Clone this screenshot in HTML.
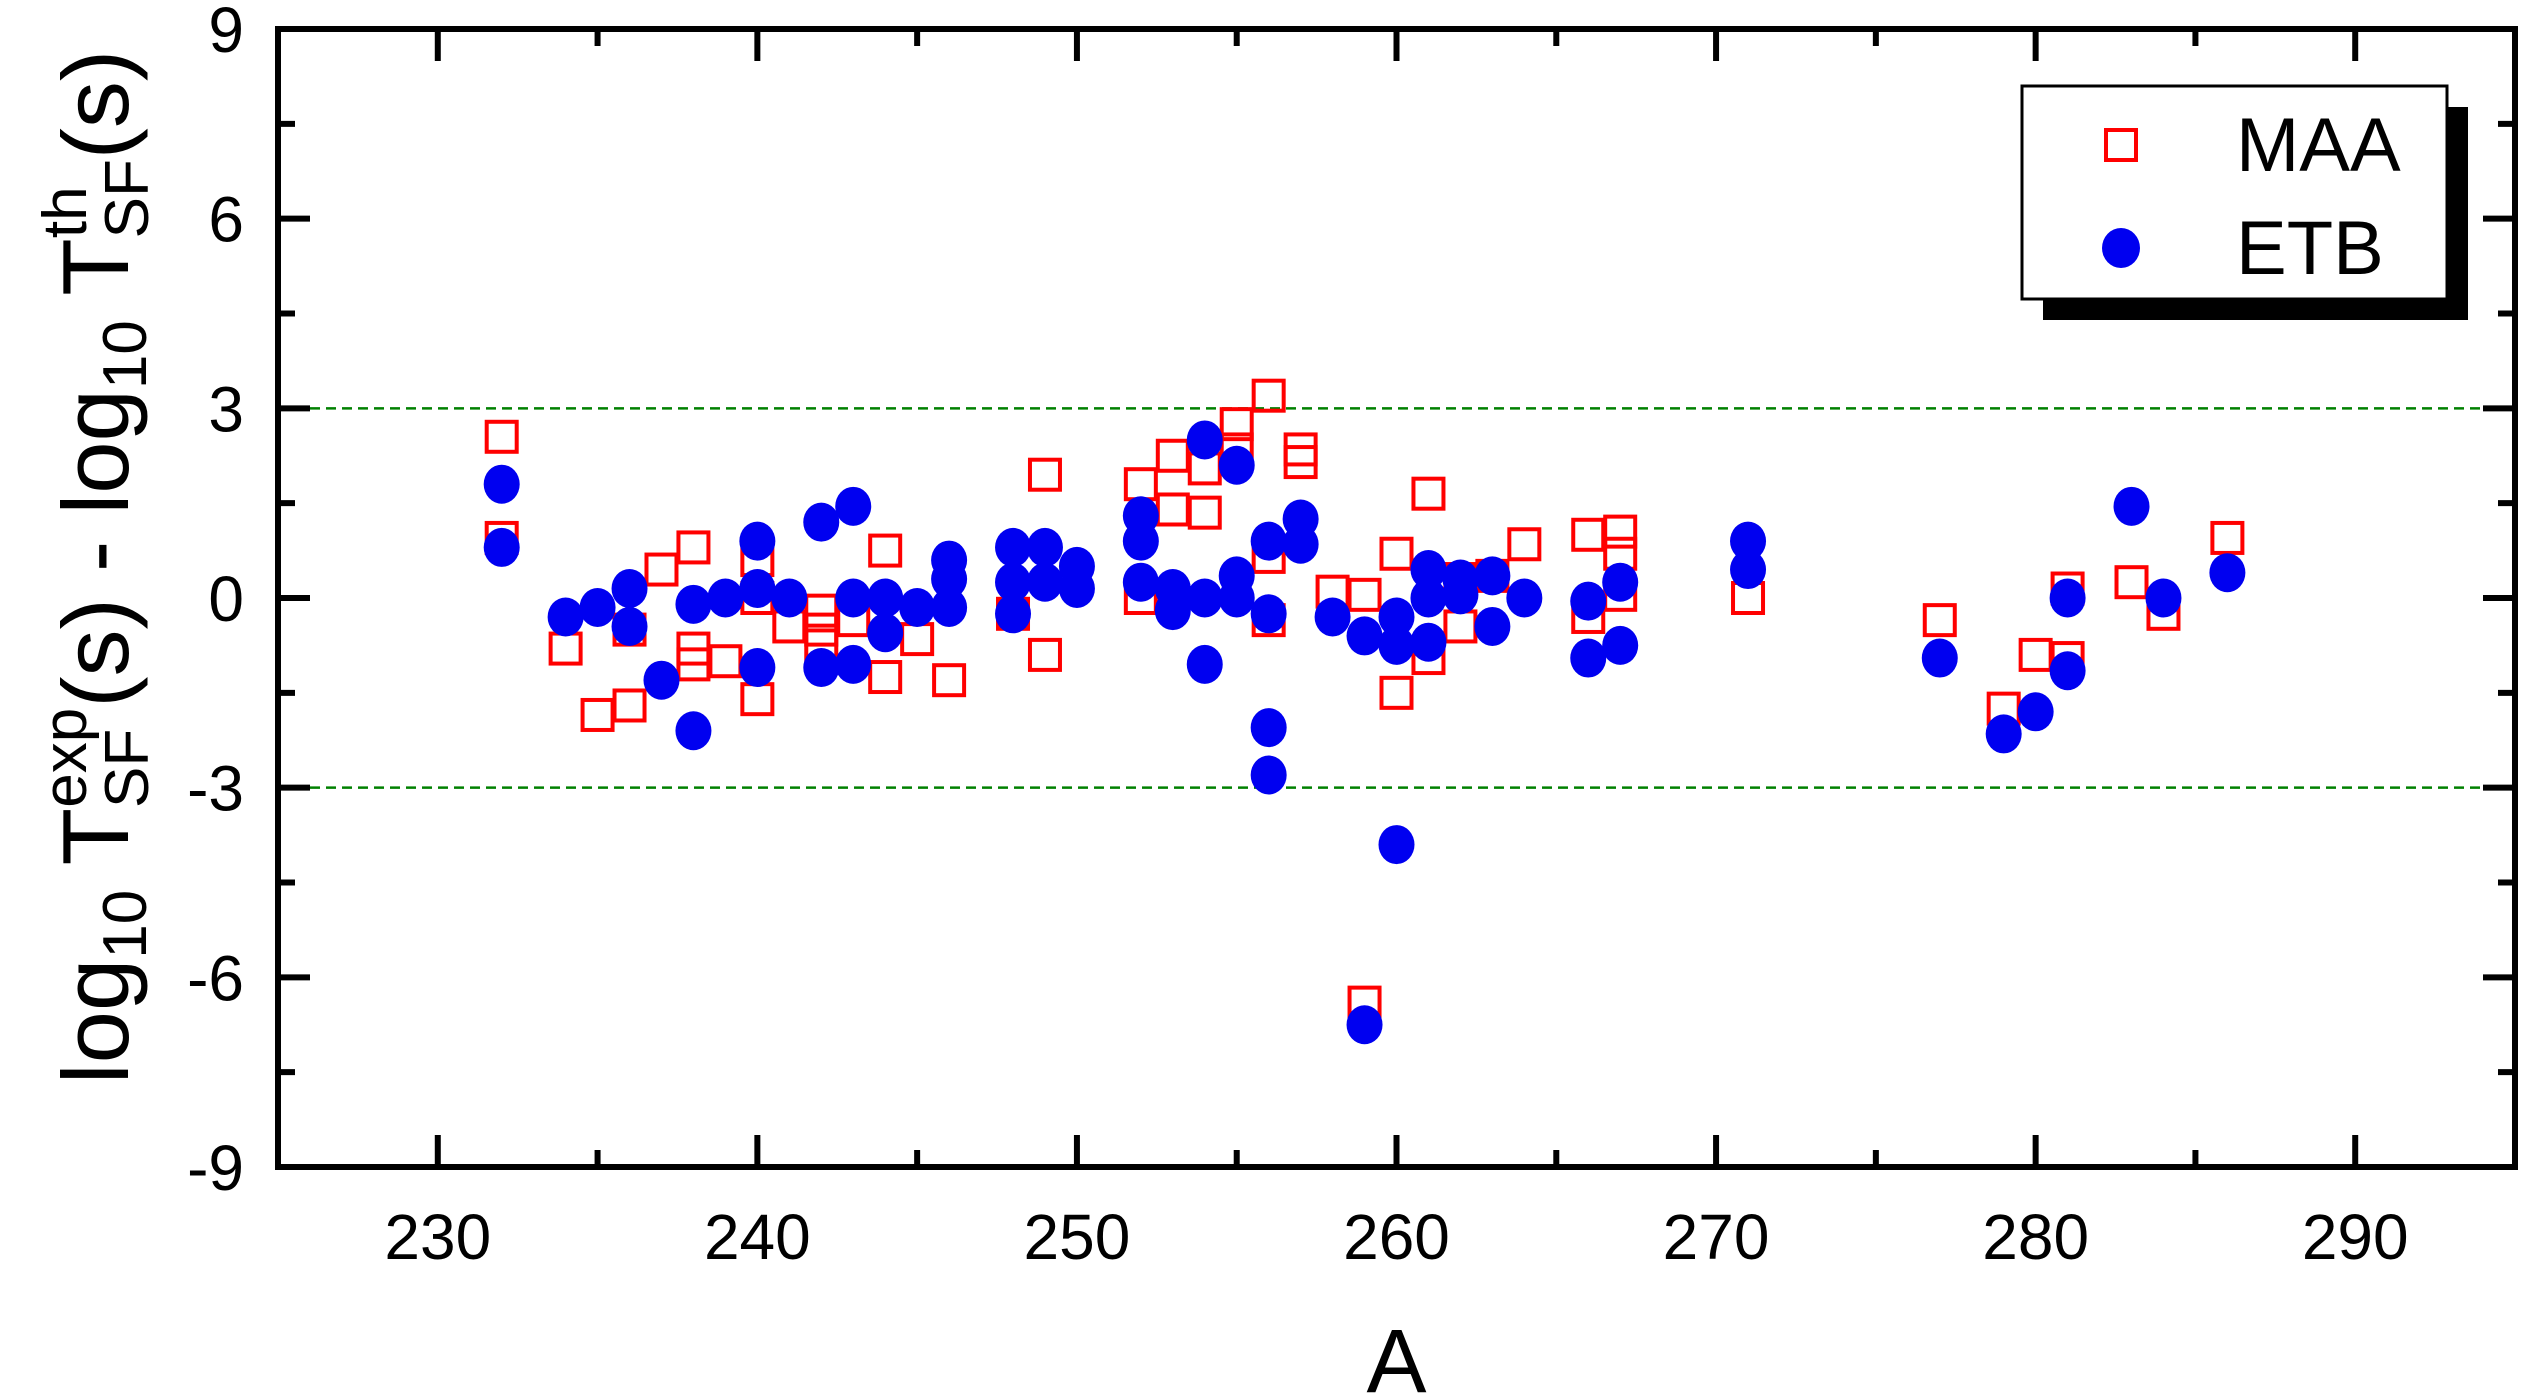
<!DOCTYPE html>
<html><head><meta charset="utf-8"><style>body{margin:0;background:#fff}svg{display:block}</style></head>
<body>
<svg id="s" width="2523" height="1396" xmlns="http://www.w3.org/2000/svg" font-family="Liberation Sans, Arial, sans-serif">
<rect width="2523" height="1396" fill="#fff"/>
<g id="g"></g>
</svg>
<script>
const L=278,R=2515,T=29,B=1167;
const px=a=>L+(a-225)*(R-L)/70, py=v=>T+(9-v)*(B-T)/18;
let h='';
[3,-3].forEach(v=>{h+=`<line x1="${L}" x2="${R}" y1="${py(v)}" y2="${py(v)}" stroke="#008000" stroke-width="2.5" stroke-dasharray="10,6"/>`;});
const maa={232:[2.55,0.95],234:[-0.8],235:[-1.85],236:[-1.7,-0.5],237:[0.45],238:[0.8,-0.8,-1.05],239:[-1.0],240:[0.6,0.0,-1.6],241:[-0.45],242:[-0.2,-0.5,-0.75],243:[-0.35],244:[0.75,-1.25],245:[-0.65],246:[-1.3],248:[-0.25],249:[1.95,-0.9],252:[1.8,0.0],253:[2.25,1.4],254:[2.05,1.35],255:[2.75,2.35],256:[3.2,0.65,-0.35],257:[2.35,2.15],258:[0.1],259:[0.05,-6.4],260:[0.7,-1.5],261:[1.65,-0.95],262:[0.3,-0.45],263:[0.35],264:[0.85],266:[1.0,-0.3],267:[1.05,0.7,0.05],271:[0.0],277:[-0.35],279:[-1.75],280:[-0.9],281:[0.15,-0.95],283:[0.25],284:[-0.25],286:[0.95]};
const etb={232:[1.8,0.8],234:[-0.3],235:[-0.15],236:[0.15,-0.45],237:[-1.3],238:[-0.1,-2.1],239:[0.0],240:[0.9,0.15,-1.1],241:[0.0],242:[1.2,-1.1],243:[1.45,0.0,-1.05],244:[0.0,-0.55],245:[-0.15],246:[0.6,0.3,-0.15],248:[0.8,0.25,-0.25],249:[0.8,0.25],250:[0.5,0.15],252:[1.3,0.9,0.25],253:[0.15,-0.2],254:[2.5,0.0,-1.05],255:[2.1,0.35,0.0],256:[0.9,-0.25,-2.05,-2.8],257:[1.25,0.85],258:[-0.3],259:[-0.6,-6.75],260:[-0.3,-0.75,-3.9],261:[0.45,0.0,-0.7],262:[0.3,0.05],263:[0.35,-0.45],264:[0.0],266:[-0.05,-0.95],267:[0.25,-0.75],271:[0.9,0.45],277:[-0.95],279:[-2.15],280:[-1.8],281:[0.0,-1.15],283:[1.45],284:[0.0],286:[0.4]};
for(const a in maa)maa[a].forEach(v=>{h+=`<rect x="${px(+a)-15}" y="${py(v)-15}" width="30" height="30" fill="none" stroke="#f00" stroke-width="4"/>`;});
for(const a in etb)etb[a].forEach(v=>{h+=`<ellipse cx="${px(+a)}" cy="${py(v)}" rx="18" ry="19.5" fill="#0000f0"/>`;});
h+=`<rect x="${L}" y="${T}" width="${R-L}" height="${B-T}" fill="none" stroke="#000" stroke-width="6"/>`;
for(let a=225;a<=295;a+=5){const x=px(a),len=a%10==0?32:17;
 h+=`<line x1="${x}" x2="${x}" y1="${B}" y2="${B-len}" stroke="#000" stroke-width="6"/><line x1="${x}" x2="${x}" y1="${T}" y2="${T+len}" stroke="#000" stroke-width="6"/>`;
 if(a%10==0)h+=`<text x="${x}" y="${B+92}" font-size="64" text-anchor="middle">${a}</text>`;}
for(let v=-9;v<=9;v+=1.5){const y=py(v),len=v%3==0?32:17;
 h+=`<line x1="${L}" x2="${L+len}" y1="${y}" y2="${y}" stroke="#000" stroke-width="6"/><line x1="${R}" x2="${R-len}" y1="${y}" y2="${y}" stroke="#000" stroke-width="6"/>`;
 if(v%3==0)h+=`<text x="244" y="${y+23}" font-size="64" text-anchor="end">${v}</text>`;}
h+=`<text x="${(L+R)/2}" y="1392" font-size="90" text-anchor="middle">A</text>`;
const fs=62;
h+=`<text transform="translate(128,567) rotate(-90)" font-size="94" text-anchor="middle">log<tspan font-size="${fs}" dy="18">10</tspan><tspan dy="-18"> T</tspan><tspan font-size="${fs}" dy="20">SF</tspan><tspan font-size="${fs}" dx="-79" dy="-62">exp</tspan><tspan dy="42">(s) - log</tspan><tspan font-size="${fs}" dy="18">10</tspan><tspan dy="-18"> T</tspan><tspan font-size="${fs}" dy="20">SF</tspan><tspan font-size="${fs}" dx="-79" dy="-62">th</tspan><tspan dx="27" dy="42">(s)</tspan></text>`;
h+=`<rect x="2043" y="107" width="425" height="213" fill="#000"/><rect x="2022" y="86" width="425" height="213" fill="#fff" stroke="#000" stroke-width="3"/>`;
h+=`<rect x="2106" y="130" width="30" height="30" fill="none" stroke="#f00" stroke-width="4"/><text x="2236" y="171" font-size="76">MAA</text>`;
h+=`<ellipse cx="2121" cy="248" rx="19" ry="20" fill="#0000f0"/><text x="2236" y="274" font-size="76">ETB</text>`;
document.getElementById('g').innerHTML=h;
</script>
</body></html>
